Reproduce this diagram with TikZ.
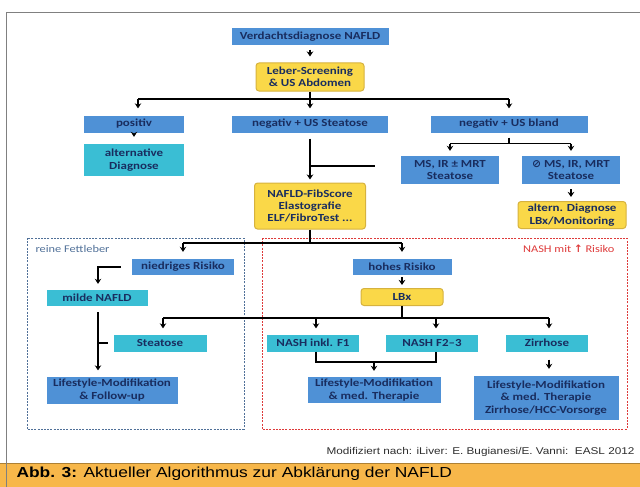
\documentclass[tikz,border=0pt]{standalone}
\usepackage{fontspec}
\setmainfont{Carlito}[FakeStretch=1.2]
\newfontfamily\capfont{Liberation Sans}[FakeStretch=1.2]
\newfontfamily\symfont{DejaVu Sans}
\usetikzlibrary{arrows.meta}

\definecolor{boxblue}{RGB}{79,145,214}
\definecolor{boxcyan}{RGB}{58,190,212}
\definecolor{boxyellow}{RGB}{250,216,72}
\definecolor{boxgold}{RGB}{214,178,62}
\definecolor{navy}{RGB}{25,45,95}
\definecolor{fatblue}{RGB}{80,112,152}
\definecolor{nashred}{RGB}{222,58,58}
\definecolor{capbar}{RGB}{247,183,74}

\begin{document}
\begin{tikzpicture}[x=1pt,y=-1pt,
    box/.style={inner sep=0pt, align=center, text=navy,
      font=\bfseries\fontsize{10.8}{12.4}\selectfont},
    bluebox/.style={box, fill=boxblue, minimum height=17pt},
    cyanbox/.style={box, fill=boxcyan, minimum height=17pt},
    yellowbox/.style={box, fill=boxyellow, draw=boxgold, line width=1pt,
      rounded corners=3pt},
    link/.style={line width=1.5pt},
    arr/.style={link, -{Stealth[length=5pt,width=6.5pt]}},
    frame/.style={dash pattern=on 2pt off 1.2pt, line width=1pt}]
  \useasboundingbox (0,0) rectangle (640,487);

  % caption bar and frame
  \fill [capbar] (0,463) rectangle (640,487);
  \draw [capbar!70!black, line width=1pt] (0,463) -- (640,463);
  \draw [gray, line width=0.8pt] (6,487) -- (6,12) -- (640,12);

  % dashed areas
  \draw [frame, fatblue] (27,238) rectangle (244,429);
  \draw [frame, nashred] (262,238) rectangle (627,429);
  \node [anchor=west, text=fatblue, font=\fontsize{10.3}{12}\selectfont]
    (fatlabel) at (32,249) {reine Fettleber};
  \node [anchor=east, text=nashred, font=\fontsize{10.3}{12}\selectfont]
    (nashlabel) at (618,249) {NASH mit {\symfont\bfseries ↑} Risiko};

  % boxes
  \node [bluebox, minimum width=157pt] (verd) at (310,37) {Verdachtsdiagnose NAFLD};
  \node [yellowbox, minimum width=108pt, minimum height=28pt] (screen) at (310,77)
    {Leber-Screening\\\& US Abdomen};
  \node [bluebox, minimum width=100pt] (pos) at (134,124) {positiv};
  \node [bluebox, minimum width=156pt] (negst) at (310,124) {negativ + US Steatose};
  \node [bluebox, minimum width=157pt] (negbl) at (509,124) {negativ + US bland};
  \node [cyanbox, minimum width=100pt, minimum height=32pt] (altdiag) at (134,160)
    {alternative\\Diagnose};
  \node [bluebox, minimum width=98pt, minimum height=28pt] (msir) at (450,170)
    {MS, IR ± MRT\\Steatose};
  \node [bluebox, minimum width=98pt, minimum height=28pt] (nonms) at (571,170)
    {{\symfont ⊘} MS, IR, MRT\\Steatose};
  \node [yellowbox, minimum width=108pt, minimum height=27pt] (altlbx) at (572,215)
    {altern. Diagnose\\LBx/Monitoring};
  \node [yellowbox, minimum width=111pt, minimum height=46pt] (fib) at (310,206)
    {NAFLD-FibScore\\Elastografie\\ELF/FibroTest ...};
  \node [bluebox, minimum width=102pt, minimum height=16pt] (niedrig) at (183,267)
    {niedriges Risiko};
  \node [bluebox, minimum width=99pt, minimum height=16pt] (hoch) at (402,267)
    {hohes Risiko};
  \node [cyanbox, minimum width=101pt, minimum height=16pt] (milde) at (97,298)
    {milde NAFLD};
  \node [yellowbox, minimum width=82pt, minimum height=17pt] (lbx) at (402,297) {LBx};
  \node [cyanbox, minimum width=93pt] (steat) at (160,343) {Steatose};
  \node [cyanbox, minimum width=92pt] (nash1) at (313,343) {NASH inkl. F1};
  \node [cyanbox, minimum width=92pt] (nash2) at (432,343) {NASH F2–3};
  \node [cyanbox, minimum width=82pt] (zirr) at (547,343) {Zirrhose};
  \node [bluebox, minimum width=131pt, minimum height=27pt] (life1) at (112,390)
    {Lifestyle-Modifikation\\\& Follow-up};
  \node [bluebox, minimum width=133pt, minimum height=26pt] (life2) at (374,390)
    {Lifestyle-Modifikation\\\& med. Therapie};
  \node [bluebox, minimum width=145pt, minimum height=44pt] (life3) at (546,398)
    {Lifestyle-Modifikation\\\& med. Therapie\\Zirrhose/HCC-Vorsorge};

  % source and caption
  \node [anchor=east, text=gray!35!black, font=\capfont\fontsize{9.8}{11}\selectfont]
    (source) at (638,452) {Modifiziert nach: iLiver: E. Bugianesi/E. Vanni:\ \ EASL 2012};
  \node [anchor=west, font=\capfont\fontsize{14.5}{16}\selectfont]
    (caption) at (13,474) {\textbf{Abb. 3:} Aktueller Algorithmus zur Abklärung der NAFLD};

  % connectors
  \coordinate (split1) at (310,99);
  \coordinate (loose) at (375,166);
  \coordinate (split2) at (310,243);
  \coordinate (split3) at (402,318);
  \coordinate (join) at (374,362);
  \draw [arr, shorten <=4pt, shorten >=6pt] (verd) -- (screen);
  \draw [link] (screen.south) -- (split1);
  \draw [link] ([xshift=4pt]pos.north |- split1) -- (negbl.north |- split1);
  \draw [arr, shorten >=7pt] ([xshift=4pt]pos.north |- split1) -- ([xshift=4pt]pos.north);
  \draw [arr, shorten >=7pt] (split1) -- (negst.north);
  \draw [arr, shorten >=7pt] (negbl.north |- split1) -- (negbl.north);
  \draw [arr, shorten <=2pt, shorten >=7pt] (pos) -- (altdiag);
  \draw [arr, shorten <=6pt, shorten >=3pt] (negst.south) -- (fib.north);
  \draw [link] (negst.south |- loose) -- (loose);
  \draw [link, shorten <=5pt] (negbl.south) -- ++(0,11) coordinate (split4);
  \draw [link] (msir.north |- split4) -- (nonms.north |- split4);
  \draw [arr, shorten >=5pt] (msir.north |- split4) -- (msir.north);
  \draw [arr, shorten >=5pt] (nonms.north |- split4) -- (nonms.north);
  \draw [arr, shorten <=5pt, shorten >=4pt] (nonms) -- (nonms.south |- altlbx.north);
  \draw [link] (fib.south) -- (split2);
  \draw [link] (niedrig.north |- split2) -- (hoch.north |- split2);
  \draw [arr, shorten >=7pt] (niedrig.north |- split2) -- (niedrig.north);
  \draw [arr, shorten >=7pt] (hoch.north |- split2) -- (hoch.north);
  \draw [arr, shorten <=11pt, shorten >=6pt] (niedrig.west) -| ([xshift=1pt]milde.north);
  \draw [arr, shorten <=2pt, shorten >=3pt] (hoch) -- (lbx);
  \draw [arr, shorten <=6pt, shorten >=6pt] ([xshift=1pt]milde.south)
    -- ([xshift=1pt]milde.south |- life1.north);
  \draw [link] ([xshift=1pt]milde.south |- steat.west) -- ([xshift=-5pt]steat.west);
  \draw [link] (lbx.south) -- (split3);
  \draw [link] ([xshift=3pt]steat.north |- split3) -- ([xshift=2pt]zirr.north |- split3);
  \draw [arr, shorten >=6pt] ([xshift=3pt]steat.north |- split3) -- ([xshift=3pt]steat.north);
  \draw [arr, shorten >=6pt] ([xshift=3pt]nash1.north |- split3) -- ([xshift=3pt]nash1.north);
  \draw [arr, shorten >=6pt] ([xshift=4pt]nash2.north |- split3) -- ([xshift=4pt]nash2.north);
  \draw [arr, shorten >=6pt] ([xshift=2pt]zirr.north |- split3) -- ([xshift=2pt]zirr.north);
  \draw [link] ([xshift=3pt]nash1.south) |- (join) -| ([xshift=4pt]nash2.south);
  \draw [arr, shorten >=6pt] (join) -- (life2.north);
  \draw [arr, shorten <=8pt, shorten >=7pt] ([xshift=2pt]zirr.south)
    -- ([xshift=2pt]zirr.south |- life3.north);
\end{tikzpicture}
\end{document}
